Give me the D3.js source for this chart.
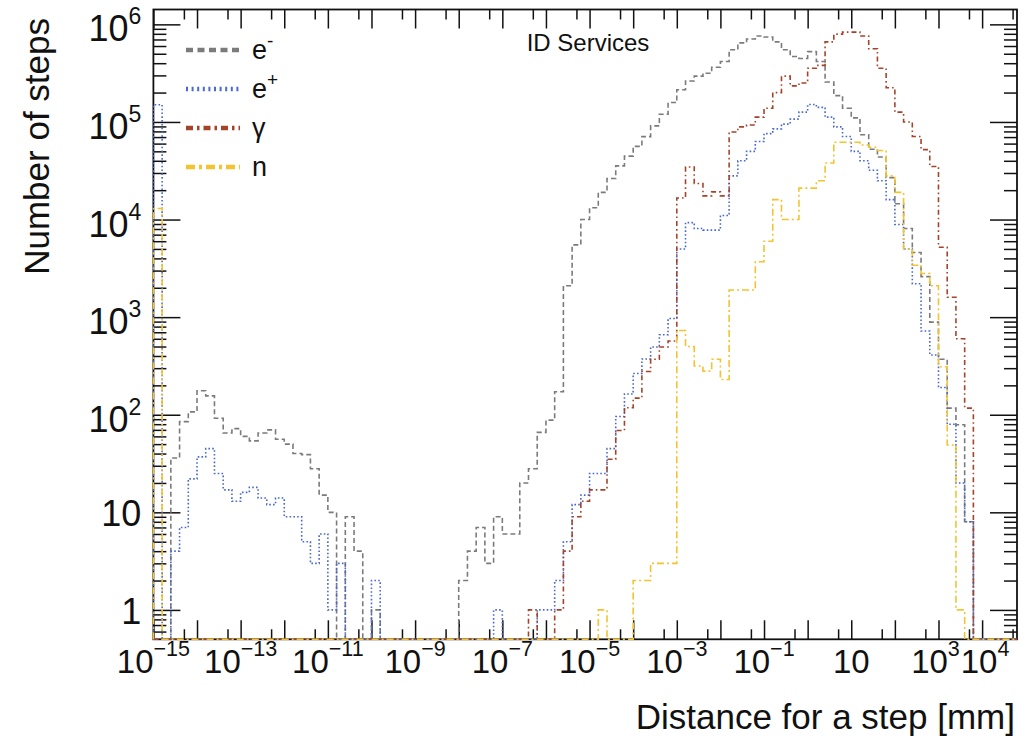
<!DOCTYPE html>
<html>
<head>
<meta charset="utf-8">
<script src="https://cdn.jsdelivr.net/npm/d3@7"></script>
<style>
  body { margin: 0; background: #fff; }
  svg { display: block; font-family: "Liberation Sans", Arial, Helvetica, sans-serif; }
</style>
</head>
<body>
<div id="chart"></div>
<script>
// binning: 99 bins of 0.2 decade starting at 10^-15 mm
const binLow = -15, binStep = 0.2, nBins = 99;

// bin contents (0 = empty bin)
const eMinus = [
  0, 0, 36, 85, 107, 176, 156, 92, 65, 72,
  60, 54, 65, 70, 56, 50, 40, 39, 28, 15,
  10, 0, 9, 4, 0, 1, 0, 0, 0, 0,
  0, 0, 0, 0, 0, 2, 4, 7, 3, 9,
  6, 6, 20, 28, 66, 88, 172, 2100, 5500, 10000,
  13200, 19000, 26300, 35500, 44700, 56200, 70800, 91200, 120000, 158000,
  214000, 263000, 295000, 316000, 363000, 417000, 550000, 646000, 708000, 759000,
  741000, 661000, 550000, 468000, 447000, 525000, 417000, 257000, 186000, 138000,
  110000, 74000, 52500, 43700, 26900, 14500, 8100, 4600, 2600, 890,
  370, 117, 79, 8, 0, 0, 0, 0, 0
];
const ePlus = [
  150000, 0, 4, 7, 22, 37, 45, 25, 17, 13,
  16, 18, 14, 12, 14, 9, 9, 5, 3, 6,
  1, 3, 0, 0, 0, 2, 0, 0, 0, 0,
  0, 0, 0, 0, 0, 0, 0, 0, 0, 1,
  0, 0, 0, 0, 1, 1, 2, 5, 12, 15,
  25, 25, 45, 96, 163, 265, 372, 495, 660, 970,
  5000, 9300, 8100, 7800, 7800, 11000, 28000, 40000, 50000, 63000,
  76000, 85000, 95000, 107000, 126000, 151000, 141000, 112000, 89000, 71000,
  50000, 40000, 32000, 25000, 16000, 8900, 5000, 2200, 720, 410,
  190, 80, 20, 8, 0, 0, 0, 0, 0
];
const gamma = [
  0, 0, 0, 0, 0, 0, 0, 0, 0, 0,
  0, 0, 0, 0, 0, 0, 0, 0, 0, 0,
  0, 0, 0, 0, 0, 0, 0, 0, 0, 0,
  0, 0, 0, 0, 0, 0, 0, 0, 0, 0,
  0, 0, 0, 1, 0, 0, 1, 4, 9, 13,
  17, 17, 35, 69, 118, 148, 277, 370, 495, 570,
  16600, 34500, 23400, 17500, 19200, 17500, 79000, 89000, 93000, 112000,
  138000, 200000, 295000, 234000, 251000, 355000, 380000, 661000, 794000, 832000,
  832000, 759000, 562000, 355000, 224000, 126000, 100000, 71000, 52000, 35000,
  5200, 1600, 600, 117, 0, 0, 0, 0, 0
];
const neutron = [
  13000, 0, 0, 0, 0, 0, 0, 0, 0, 0,
  0, 0, 0, 0, 0, 0, 0, 0, 0, 0,
  0, 0, 0, 0, 0, 0, 0, 0, 0, 0,
  0, 0, 0, 0, 0, 0, 0, 0, 0, 0,
  0, 0, 0, 0, 0, 0, 0, 0, 0, 0,
  0, 1, 0, 0, 0, 2, 2, 3, 3, 3,
  730, 500, 316, 280, 370, 230, 1900, 1900, 1900, 3700,
  6000, 16000, 10000, 10000, 21000, 21000, 25000, 38000, 62000, 62000,
  62000, 58000, 55000, 51000, 28000, 19000, 5000, 3400, 2800, 2100,
  310, 49, 1, 0, 0, 0, 0, 0, 0
];

const seriesNames = ["e", "e", "\u03b3", "n"];
const seriesSup   = ["-", "+", "", ""];

// axis decorations
const xLabelExp = [-15, -13, -11, -9, -7, -5, -3, -1, 1, 3, 4];
const yLabelExp = [0, 1, 2, 3, 4, 5, 6];
const xTitle = "Distance for a step [mm]";
const yTitle = "Number of steps";
const caption = "ID Services";

const width = 1030, height = 746;
const margin = { top: 9.5, right: 13, bottom: 106.7, left: 153.4 };
const innerW = width - margin.left - margin.right;
const innerH = height - margin.top - margin.bottom;

const yMin = 0.5, yMax = 1.42e6;
const xMinLog = binLow, xMaxLog = binLow + binStep * nBins;

const x = d3.scaleLog()
  .domain([Math.pow(10, xMinLog), Math.pow(10, xMaxLog)])
  .range([0, innerW]);
const y = d3.scaleLog()
  .domain([yMin, yMax])
  .range([innerH, 0]);

const svg = d3.select("#chart").append("svg")
  .attr("width", width)
  .attr("height", height);

const g = svg.append("g")
  .attr("transform", `translate(${margin.left},${margin.top})`);

svg.append("defs").append("clipPath").attr("id", "plotClip")
  .append("rect")
    .attr("x", -1).attr("y", -1)
    .attr("width", innerW + 2).attr("height", innerH + 2);

// frame first, histograms are painted over it like in ROOT
g.append("rect")
  .attr("width", innerW)
  .attr("height", innerH)
  .attr("fill", "none")
  .attr("stroke", "#111")
  .attr("stroke-width", 1.8);

// ---- ticks (ROOT style, inside, on all four sides)
const xMajor = d3.range(-15, 5).map(p => Math.pow(10, p));
const xMinor = d3.range(-15, 5).map(p => 5 * Math.pow(10, p)).filter(v => v < x.domain()[1]);
const yMajor = d3.range(0, 7).map(p => Math.pow(10, p));
const yMinor = [];
d3.range(-1, 7).forEach(p => {
  for (let k = 2; k <= 9; k++) {
    const v = k * Math.pow(10, p);
    if (v > yMin && v < yMax) yMinor.push(v);
  }
});

function styleTicks(sel) {
  sel.select(".domain").remove();
  sel.selectAll("line").attr("stroke", "#111").attr("stroke-width", 1.5);
}

g.append("g").attr("transform", `translate(0,${innerH})`)
  .call(d3.axisBottom(x).tickValues(xMajor).tickSize(-19).tickFormat(""))
  .call(styleTicks);
g.append("g").attr("transform", `translate(0,${innerH})`)
  .call(d3.axisBottom(x).tickValues(xMinor).tickSize(-10).tickFormat(""))
  .call(styleTicks);
g.append("g")
  .call(d3.axisTop(x).tickValues(xMajor).tickSize(-19).tickFormat(""))
  .call(styleTicks);
g.append("g")
  .call(d3.axisTop(x).tickValues(xMinor).tickSize(-10).tickFormat(""))
  .call(styleTicks);

g.append("g")
  .call(d3.axisLeft(y).tickValues(yMajor).tickSize(-27).tickFormat(""))
  .call(styleTicks);
g.append("g")
  .call(d3.axisLeft(y).tickValues(yMinor).tickSize(-13).tickFormat(""))
  .call(styleTicks);
g.append("g").attr("transform", `translate(${innerW},0)`)
  .call(d3.axisRight(y).tickValues(yMajor).tickSize(-27).tickFormat(""))
  .call(styleTicks);
g.append("g").attr("transform", `translate(${innerW},0)`)
  .call(d3.axisRight(y).tickValues(yMinor).tickSize(-13).tickFormat(""))
  .call(styleTicks);

// ---- histograms
const edges = d3.range(nBins + 1).map(i => Math.pow(10, binLow + binStep * i));

function stepPoints(vals) {
  const pts = [[edges[0], yMin]];
  vals.forEach((v, i) => {
    const c = Math.max(v, yMin);
    pts.push([edges[i], c], [edges[i + 1], c]);
  });
  pts.push([edges[nBins], yMin]);
  return pts;
}

const line = d3.line()
  .x(d => x(d[0]))
  .y(d => y(d[1]));

const styles = [
  { color: "#7b7b7b", dash: "5,3",          w: 1.6, legDash: "7,4.5" },
  { color: "#4a68cf", dash: "1.6,2.2",      w: 1.6, legDash: "2,3.6" },
  { color: "#a5432a", dash: "5,3,1.6,3",    w: 1.6, legDash: "7,4,2.5,4" },
  { color: "#f3c330", dash: "7,3,2,3",      w: 1.6, legDash: "9,4,3,4" }
];

const allSeries = [eMinus, ePlus, gamma, neutron];

g.append("g")
  .attr("clip-path", "url(#plotClip)")
  .selectAll("path")
  .data(allSeries)
  .join("path")
    .attr("d", d => line(stepPoints(d)))
    .attr("fill", "none")
    .attr("stroke", (d, i) => styles[i].color)
    .attr("stroke-width", (d, i) => styles[i].w)
    .attr("stroke-dasharray", (d, i) => styles[i].dash);

// ---- tick labels
function powerLabel(sel, p, supSize, raise) {
  if (p === 0) { sel.text("1"); return; }
  if (p === 1) { sel.text("10"); return; }
  sel.append("tspan").text("10");
  sel.append("tspan")
    .attr("font-size", supSize)
    .attr("dy", -raise)
    .text(p < 0 ? "\u2212" + (-p) : String(p));
}

// the last two labels sit very close; nudge them apart a little
const xLabelNudge = { 3: -3, 4: 3 };

xLabelExp.forEach(p => {
  g.append("text")
    .attr("x", x(Math.pow(10, p)) + (xLabelNudge[p] || 0))
    .attr("y", 673 - margin.top)
    .attr("text-anchor", "middle")
    .attr("font-size", 33)
    .attr("fill", "#111")
    .call(powerLabel, p, 21.5, 17);
});

yLabelExp.forEach(p => {
  g.append("text")
    .attr("x", -12)
    .attr("y", y(Math.pow(10, p)) + (p > 1 ? 17 : 14))
    .attr("text-anchor", "end")
    .attr("font-size", 36)
    .attr("fill", "#111")
    .call(powerLabel, p, 23, 17);
});

// ---- titles
svg.append("text")
  .attr("x", width - 15)
  .attr("y", 729)
  .attr("text-anchor", "end")
  .attr("font-size", 35)
  .attr("fill", "#111")
  .text(xTitle);

svg.append("text")
  .attr("transform", "translate(49,18) rotate(-90)")
  .attr("text-anchor", "end")
  .attr("font-size", 35)
  .attr("fill", "#111")
  .text(yTitle);

svg.append("text")
  .attr("x", 588)
  .attr("y", 51)
  .attr("text-anchor", "middle")
  .attr("font-size", 24)
  .attr("fill", "#111")
  .text(caption);

// ---- legend
const legend = svg.append("g");
const legendY = [50, 89, 128, 167];
seriesNames.forEach((name, i) => {
  legend.append("line")
    .attr("x1", 186).attr("x2", 240)
    .attr("y1", legendY[i]).attr("y2", legendY[i])
    .attr("stroke", styles[i].color)
    .attr("stroke-width", 4.5)
    .attr("stroke-dasharray", styles[i].legDash);
  const t = legend.append("text")
    .attr("x", 252)
    .attr("y", legendY[i] + 9)
    .attr("font-size", 27)
    .attr("fill", "#111");
  t.append("tspan").text(name);
  if (seriesSup[i]) {
    t.append("tspan").attr("font-size", 19).attr("dy", -12).text(seriesSup[i]);
  }
});
</script>
</body>
</html>
